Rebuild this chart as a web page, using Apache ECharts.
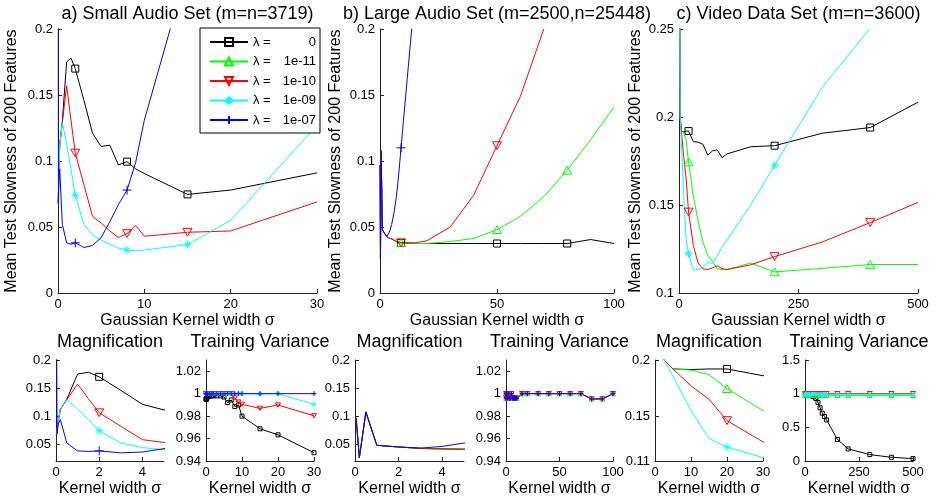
<!DOCTYPE html>
<html><head><meta charset="utf-8">
<script src="https://cdn.jsdelivr.net/npm/echarts@6/dist/echarts.min.js"></script>
<style>html,body{margin:0;padding:0;background:#fff}#c{width:944px;height:503px}</style>
</head><body><div id="c"></div>
<script>
// ---------------- data ----------------
const lambdaNames  = ['λ = 0', 'λ = 1e-11', 'λ = 1e-10', 'λ = 1e-09', 'λ = 1e-07'];
const lambdaLabels = ['0', '1e-11', '1e-10', '1e-09', '1e-07'];

// a) Small Audio Set
const sigmaA = [0.02, 0.05, 0.1, 0.2, 0.5, 1, 1.5, 2, 3, 4, 5, 6, 7, 8, 9, 10, 15, 20, 30];
const slowA_0    = [0.068, 0.075, 0.09, 0.112, 0.13, 0.175, 0.178, 0.170, 0.146, 0.121, 0.111, 0.112, 0.097, 0.0995, 0.094, 0.0905, 0.0747, 0.078, 0.091];
const slowA_1e10 = [0.068, 0.075, 0.09, 0.112, 0.129, 0.157, 0.131, 0.106, 0.082, 0.058, 0.053, 0.047, 0.042, 0.045, 0.051, 0.043, 0.046, 0.047, 0.069];
const slowA_1e09 = [0.068, 0.075, 0.09, 0.112, 0.129, 0.113, 0.094, 0.074, 0.052, 0.044, 0.040, 0.037, 0.034, 0.0325, 0.032, 0.0325, 0.0367, 0.055, 0.127];
const slowA_1e07 = [0.30, 0.068, 0.085, 0.094, 0.052, 0.038, 0.037, 0.038, 0.0345, 0.036, 0.042, 0.054, 0.067, 0.078, 0.099, 0.131, 0.246, null, null];
const varA_0     = [0.995, 0.995, 0.995, 0.996, 0.997, 0.998, 0.998, 0.998, 0.998, 0.998, 0.997, 0.992, 0.9944, 0.9886, 0.990, 0.980, 0.9687, 0.9633, 0.9474];
const varA_1e10  = [1, 1, 1, 1, 1, 1, 1, 1, 1, 1, 1, 1, 1, 0.9962, 0.9925, 0.9905, 0.9869, 0.9899, 0.9803];
const varA_1e09  = [1, 1, 1, 1, 1, 1, 1, 1, 1, 1, 1, 1, 1, 1, 1, 1, 0.9998, 1, 0.9905];
const varA_1e07  = [1, 1, 1, 1, 1, 1, 1, 1, 1, 1, 1, 1, 1, 1, 1, 1, 1, 1, 1];
const markA = [2, 8, 15];

// b) Large Audio Set
const sigmaB = [0.05, 0.2, 0.5, 1, 2, 3, 4, 5, 6, 7, 8, 9, 10, 15, 20, 30, 40, 50, 60, 70, 80, 90, 100];
const slowB_0    = [0.097, 0.026, 0.107, 0.048, 0.045, 0.0425, 0.0415, 0.041, 0.040, 0.039, 0.0385, 0.038, 0.038, 0.0375, 0.0375, 0.0375, 0.0375, 0.0375, 0.0375, 0.0375, 0.0375, 0.0405, 0.0375];
const slowB_1e11 = [0.097, 0.026, 0.107, 0.048, 0.045, 0.0425, 0.0415, 0.041, 0.040, 0.039, 0.0385, 0.038, 0.038, 0.0375, 0.0375, 0.039, 0.0413, 0.048, 0.058, 0.073, 0.093, 0.116, 0.141];
const slowB_1e10 = [0.097, 0.026, 0.107, 0.048, 0.045, 0.0425, 0.0415, 0.041, 0.040, 0.039, 0.0385, 0.038, 0.038, 0.038, 0.0395, 0.050, 0.074, 0.1116, 0.149, 0.20, null, null, null];
const slowB_1e07 = [0.097, 0.026, 0.108, 0.048, 0.045, 0.043, 0.046, 0.052, 0.061, 0.073, 0.090, 0.110, 0.130, 0.229, null, null, null, null, null, null, null, null, null];
const varB       = [1, 0.996, 1, 0.996, 1, 0.996, 0.996, 1, 0.996, 0.996, 0.996, 0.996, 0.996, 1, 1, 1, 1, 1, 1, 1, 0.9953, 0.9953, 1];
const markB = [9, 50, 80];

// c) Video Data Set
const sigmaC = [1, 2.5, 5, 10, 15, 20, 30, 40, 50, 60, 70, 80, 90, 100, 150, 200, 300, 400, 500];
const slowC_0    = [0.30, 0.20, 0.192, 0.1915, 0.192, 0.192, 0.186, 0.1857, 0.1845, 0.1784, 0.1807, 0.1813, 0.1769, 0.179, 0.1831, 0.1837, 0.1908, 0.194, 0.2084];
const slowC_1e11 = [0.30, 0.20, 0.192, 0.191, 0.187, 0.1745, 0.155, 0.141, 0.129, 0.1215, 0.118, 0.1137, 0.1133, 0.1133, 0.117, 0.112, 0.114, 0.1162, 0.1162];
const slowC_1e10 = [0.30, 0.20, 0.192, 0.177, 0.165, 0.146, 0.127, 0.117, 0.1137, 0.1133, 0.1143, 0.1154, 0.1139, 0.1133, 0.116, 0.1207, 0.129, 0.140, 0.1515];
const slowC_1e09 = [0.30, 0.20, 0.1855, 0.155, 0.130, 0.1224, 0.113, 0.1135, 0.1143, 0.1177, 0.1167, 0.121, 0.126, 0.130, 0.150, 0.1725, 0.217, 0.2505, 0.29];
const varC_0     = [1, 1, 0.998, 0.99, 0.985, 0.98, 0.97, 0.955, 0.93, 0.87, 0.79, 0.71, 0.66, 0.61, 0.32, 0.18, 0.095, 0.055, 0.036];
const varC_1e11  = [0.975, 0.975, 0.975, 0.975, 0.975, 0.975, 0.975, 0.975, 0.975, 0.975, 0.975, 0.975, 0.975, 0.975, 0.975, 0.975, 0.975, 0.975, 0.975];
const varC_1e10  = [1, 1, 1, 1, 1, 1, 1, 1, 1, 1, 1, 1, 1, 1, 1, 1, 1, 1, 1];
const varC_1e09  = [0.99, 0.99, 0.99, 0.99, 0.99, 0.99, 0.99, 0.99, 0.99, 0.99, 0.99, 0.99, 0.99, 0.99, 0.99, 0.99, 0.99, 0.99, 0.99];
const markC = [20, 200, 400];

// tick labels
const ticksSlowAB = [0, 0.05, 0.1, 0.15, 0.2];
const ticksSlowC  = [0.1, 0.15, 0.2, 0.25];
const ticksXA = [0, 10, 20, 30];
const ticksXB = [0, 50, 100];
const ticksXC = [0, 250, 500];
const ticksMagY = [0.05, 0.1, 0.15, 0.2];
const ticksMagCY = [0.11, 0.15, 0.2];
const ticksMagX = [0, 2, 4];
const ticksMagCX = [0, 10, 20, 30];
const ticksVarY = [0.94, 0.96, 0.98, 1, 1.02];
const ticksVarCY = [0, 0.5, 1, 1.5];

// ---------------- styling ----------------
const FONT = '"Liberation Sans", Arial, Helvetica, sans-serif';
const COLORS = ['#000000', '#00ff00', '#ff0000', '#00ffff', '#0000ff'];
const SYMBOLS = [
  'rect',
  'path://M5,0L10,8.66L0,8.66Z',
  'path://M0,0L10,0L5,8.66Z',
  'path://M5,0L5,10M0,5L10,5M1.5,1.5L8.5,8.5M8.5,1.5L1.5,8.5',
  'path://M5,0L5,10M0,5L10,5'
];
const SIZE_BIG = [7, 9, 9, 8, 9];
const SIZE_SMALL = [4, 5, 5, 5, 5];

const gridPos = [
  {left: 58,  top: 29,  width: 259, height: 264},
  {left: 380, top: 29,  width: 234, height: 264},
  {left: 679, top: 29,  width: 239, height: 264},
  {left: 56,  top: 360, width: 108, height: 101},
  {left: 206, top: 360, width: 108, height: 101},
  {left: 355, top: 360, width: 109, height: 101},
  {left: 506, top: 360, width: 107, height: 101},
  {left: 655, top: 360, width: 108, height: 101},
  {left: 805, top: 360, width: 108, height: 101}
];

function axisBase(i, min, max, ticks) {
  return {
    gridIndex: i, type: 'value', min: min, max: max,
    splitLine: {show: false},
    axisLine: {onZero: false, lineStyle: {color: '#222', width: 1}},
    axisTick: {inside: true, length: 4, customValues: ticks, lineStyle: {color: '#222'}},
    axisLabel: {customValues: ticks, color: '#000', fontSize: 13, fontFamily: FONT, margin: 5},
    silent: true
  };
}

const xAxes = [
  axisBase(0, 0, 30, ticksXA), axisBase(1, 0, 100, ticksXB), axisBase(2, 0, 500, ticksXC),
  axisBase(3, 0, 5, ticksMagX), axisBase(4, 0, 30, ticksXA),
  axisBase(5, 0, 5, ticksMagX), axisBase(6, 0, 100, ticksXB),
  axisBase(7, 0, 30, ticksMagCX), axisBase(8, 0, 500, ticksXC)
];
const yAxes = [
  axisBase(0, 0, 0.2, ticksSlowAB), axisBase(1, 0, 0.2, ticksSlowAB), axisBase(2, 0.1, 0.25, ticksSlowC),
  axisBase(3, 0.02, 0.2, ticksMagY), axisBase(4, 0.94, 1.03, ticksVarY),
  axisBase(5, 0.02, 0.2, ticksMagY), axisBase(6, 0.94, 1.03, ticksVarY),
  axisBase(7, 0.11, 0.2, ticksMagCY), axisBase(8, 0, 1.5, ticksVarCY)
];

const series = [];
function addSeries(g, xs, ys, lam, marks, small) {
  const data = [];
  xs.forEach(function (x, k) {
    const y = ys[k];
    if (y === null || y === undefined) return;
    const on = marks === 'all' || marks.indexOf(x) >= 0;
    data.push(on ? {value: [x, y]} : {value: [x, y], symbol: 'none'});
  });
  series.push({
    type: 'line', name: lambdaNames[lam], xAxisIndex: g, yAxisIndex: g,
    data: data, symbol: SYMBOLS[lam], symbolKeepAspect: true,
    symbolSize: small ? SIZE_SMALL[lam] : SIZE_BIG[lam],
    showSymbol: true, showAllSymbol: true, clip: true, silent: true,
    lineStyle: {color: COLORS[lam], width: 1},
    itemStyle: {color: 'rgba(255,255,255,0)', borderColor: COLORS[lam], borderWidth: 1},
    emphasis: {disabled: true}, animation: false
  });
}

// main + magnification panels
[[0, 3]].forEach(function (gs) {
  gs.forEach(function (g) {
    addSeries(g, sigmaA, slowA_0, 0, markA, false);
    addSeries(g, sigmaA, [], 1, markA, false);
    addSeries(g, sigmaA, slowA_1e10, 2, markA, false);
    addSeries(g, sigmaA, slowA_1e09, 3, markA, false);
    addSeries(g, sigmaA, slowA_1e07, 4, markA, false);
  });
});
[1, 5].forEach(function (g) {
  addSeries(g, sigmaB, slowB_0, 0, markB, false);
  addSeries(g, sigmaB, slowB_1e11, 1, markB, false);
  addSeries(g, sigmaB, slowB_1e10, 2, markB, false);
  addSeries(g, sigmaB, slowB_1e07, 4, markB, false);
});
[2, 7].forEach(function (g) {
  addSeries(g, sigmaC, slowC_0, 0, markC, false);
  addSeries(g, sigmaC, slowC_1e11, 1, markC, false);
  addSeries(g, sigmaC, slowC_1e10, 2, markC, false);
  addSeries(g, sigmaC, slowC_1e09, 3, markC, false);
});
// training variance panels
addSeries(4, sigmaA, varA_0, 0, 'all', true);
addSeries(4, sigmaA, varA_1e10, 2, 'all', true);
addSeries(4, sigmaA, varA_1e09, 3, 'all', true);
addSeries(4, sigmaA, varA_1e07, 4, 'all', true);
addSeries(6, sigmaB, varB, 1, 'all', true);
addSeries(6, sigmaB, varB, 2, 'all', true);
addSeries(6, sigmaB, varB, 4, 'all', true);
addSeries(8, sigmaC, varC_0, 0, 'all', true);
addSeries(8, sigmaC, varC_1e11, 1, 'all', true);
addSeries(8, sigmaC, varC_1e10, 2, 'all', true);
addSeries(8, sigmaC, varC_1e09, 3, 'all', true);

// texts
function txt(x, y, s, size, rot) {
  return {type: 'text', x: x, y: y, rotation: rot || 0, silent: true, z: 100,
    style: {text: s, fontSize: size, fontFamily: FONT, fill: '#000', align: 'center', verticalAlign: 'middle'}};
}
const graphics = [
  txt(187.5, 14, 'a) Small Audio Set (m=n=3719)', 18),
  txt(497, 14, 'b) Large Audio Set (m=2500,n=25448)', 18),
  txt(798.5, 14, 'c) Video Data Set (m=n=3600)', 18),
  txt(12, 161, 'Mean Test Slowness of 200 Features', 16, Math.PI / 2),
  txt(336, 161, 'Mean Test Slowness of 200 Features', 16, Math.PI / 2),
  txt(636, 161, 'Mean Test Slowness of 200 Features', 16, Math.PI / 2),
  txt(187.5, 321, 'Gaussian Kernel width σ', 16),
  txt(497, 321, 'Gaussian Kernel width σ', 16),
  txt(798.5, 321, 'Gaussian Kernel width σ', 16)
];
[3, 4, 5, 6, 7, 8].forEach(function (g, k) {
  const p = gridPos[g];
  const cx = p.left + p.width / 2;
  graphics.push(txt(cx, 342, k % 2 === 0 ? 'Magnification' : 'Training Variance', 18));
  graphics.push(txt(cx, 489, 'Kernel width σ', 16));
});

const chart = echarts.init(document.getElementById('c'), null, {renderer: 'canvas'});
chart.setOption({
  animation: false,
  backgroundColor: '#fff',
  grid: gridPos.map(function (p) { return Object.assign({containLabel: false}, p); }),
  xAxis: xAxes,
  yAxis: yAxes,
  series: series,
  graphic: graphics,
  legend: {
    data: lambdaNames, orient: 'vertical', left: 200, top: 28,
    padding: [7, 4, 6, 9], itemGap: 5.5, itemWidth: 38, itemHeight: 10,
    backgroundColor: '#fff', borderColor: '#000', borderWidth: 1, borderRadius: 0,
    selectedMode: false, z: 50,
    formatter: function (name) {
      return '{a|λ =}{b|' + lambdaLabels[lambdaNames.indexOf(name)] + '}';
    },
    textStyle: {
      fontFamily: FONT, fontSize: 13, color: '#000', lineHeight: 14,
      rich: {a: {fontFamily: FONT, fontSize: 13, width: 22, lineHeight: 14},
             b: {fontFamily: FONT, fontSize: 13, width: 41, align: 'right', lineHeight: 14}}
    }
  }
});
</script></body></html>
